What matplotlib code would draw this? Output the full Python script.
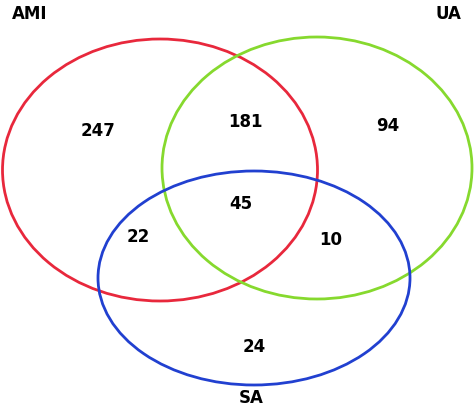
import matplotlib
matplotlib.use("Agg")
import matplotlib.pyplot as plt
from matplotlib.patches import Ellipse

set_names = ["AMI", "UA", "SA"]
region_labels = ["247", "181", "94", "45", "22", "10", "24"]

fig = plt.figure(figsize=(4.74, 4.08), dpi=100)
ax = fig.add_axes([0, 0, 1, 1])
ax.set_xlim(0, 474)
ax.set_ylim(408, 0)
ax.axis("off")

ells = [((160, 170), 315, 262, "#e8283c"),
        ((317, 168), 310, 262, "#86d92e"),
        ((254, 278), 312, 214, "#2140d0")]
for (c, w, h, col) in ells:
    ax.add_patch(Ellipse(c, w, h, fill=False, edgecolor=col, lw=2))

name_pos = [(30, 14), (448, 14), (251, 398)]
for n, (x, y) in zip(set_names, name_pos):
    ax.text(x, y, n, ha="center", va="center", fontsize=12, fontweight="bold")

reg_pos = [(98, 131), (245, 122), (388, 126), (241, 204), (138, 237), (331, 240), (254, 347)]
for t, (x, y) in zip(region_labels, reg_pos):
    ax.text(x, y, t, ha="center", va="center", fontsize=12, fontweight="bold")

fig.savefig("out.png", dpi=100)
